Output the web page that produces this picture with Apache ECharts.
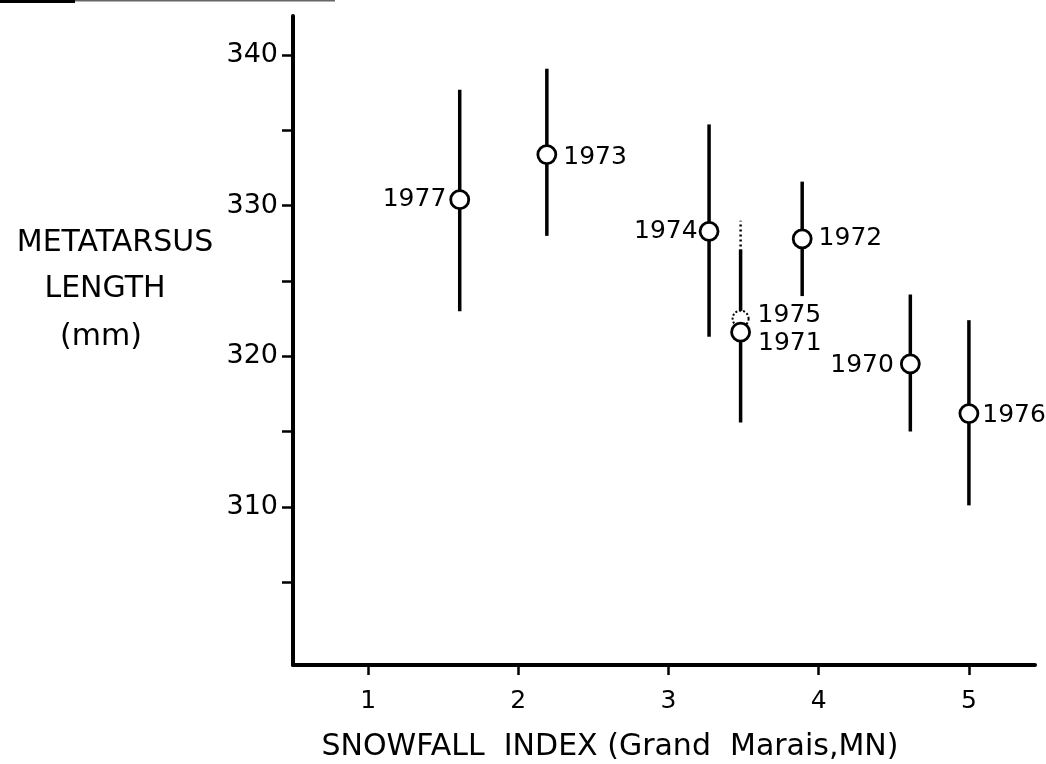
<!DOCTYPE html>
<html>
<head>
<meta charset="utf-8">
<script src="https://cdn.jsdelivr.net/npm/echarts@6/dist/echarts.min.js"></script>
<style>html,body{margin:0;padding:0;background:#fff;}#c{width:1046px;height:764px;}</style>
</head>
<body>
<div id="c"></div>
<script>
// ---- data ----
const years    = ['1977', '1973', '1974', '1975', '1971', '1972', '1970', '1976'];
const snowfall = [1.61, 2.19, 3.27, 3.48, 3.48, 3.89, 4.61, 5.00];
const meanLen  = [330.4, 333.4, 328.3, 322.5, 321.6, 327.8, 319.5, 316.2];
const upperLen = [337.7, 339.1, 335.4, 329.0, 327.1, 331.6, 324.1, 322.4];
const lowerLen = [323.0, 328.0, 321.3, 316.0, 315.6, 324.0, 315.0, 310.1];
const dottedYears = ['1975'];
const xTickValues = [1, 2, 3, 4, 5];
const yTickValues = [305, 310, 315, 320, 325, 330, 335, 340];
const yLabelValues = [310, 320, 330, 340];

// label placement (style, kept separate from data)
const labelSide   = {'1977':'left','1973':'right','1974':'left','1975':'right','1971':'right','1972':'right','1970':'left','1976':'right'};
const labelOffset = {'1975':[0,-3],'1971':[0,11],'1973':[0,3],'1976':[0,2],'1970':[0,2]};
const labelDist   = {'1977':3,'1974':1,'1975':8,'1971':7,'1976':3};

const FONT = 'DejaVu Sans';
const chart = echarts.init(document.getElementById('c'));

function rows(dotted) {
  const out = [];
  years.forEach((y, i) => {
    if ((dottedYears.indexOf(y) >= 0) === dotted) out.push(i);
  });
  return out;
}
function barData(dotted) {
  return rows(dotted).map(i => [snowfall[i], lowerLen[i], upperLen[i]]);
}
function ptData(dotted) {
  return rows(dotted).map(i => ({
    value: [snowfall[i], meanLen[i]],
    name: years[i],
    label: {
      position: labelSide[years[i]],
      distance: labelDist[years[i]] !== undefined ? labelDist[years[i]] : 6,
      offset: labelOffset[years[i]] || [0, 0]
    }
  }));
}
function barRender(dashed) {
  return function (params, api) {
    const x = api.value(0), lo = api.value(1), hi = api.value(2);
    const p1 = api.coord([x, lo]), p2 = api.coord([x, hi]);
    return {
      type: 'line',
      shape: {x1: p1[0], y1: p1[1], x2: p2[0], y2: p2[1]},
      style: {stroke: '#000', lineWidth: dashed ? 2.5 : 3.5, lineDash: dashed ? [2, 3] : null}
    };
  };
}
const labelStyle = {
  show: true, formatter: p => p.name, color: '#000', fontSize: 25, fontFamily: FONT
};
const titleFont = '30px "DejaVu Sans"';

chart.setOption({
  animation: false,
  backgroundColor: '#fff',
  grid: {left: 293, right: 11, top: 16, bottom: 99},
  xAxis: {
    type: 'value', min: 0.5, max: 5.44,
    axisLine: {onZero: false, lineStyle: {color: '#000', width: 4}},
    axisTick: {customValues: xTickValues, length: 10, lineStyle: {color: '#000', width: 2.5}},
    axisLabel: {customValues: xTickValues, color: '#000', fontSize: 25, fontFamily: FONT, margin: 24},
    splitLine: {show: false}
  },
  yAxis: {
    type: 'value', min: 299.5, max: 342.6,
    axisLine: {onZero: false, lineStyle: {color: '#000', width: 4}},
    axisTick: {customValues: yTickValues, length: 11, lineStyle: {color: '#000', width: 2.5}},
    axisLabel: {customValues: yLabelValues, color: '#000', fontSize: 27, fontFamily: FONT, margin: 15},
    splitLine: {show: false}
  },
  graphic: [
    {type: 'rect', shape: {x: 0, y: 0, width: 75, height: 3}, style: {fill: '#000'}},
    {type: 'rect', shape: {x: 75, y: 0, width: 260, height: 1.5}, style: {fill: '#666'}},
    {type: 'text', x: 115, y: 243, style: {text: 'METATARSUS', fill: '#000', font: titleFont, align: 'center', verticalAlign: 'middle'}},
    {type: 'text', x: 105, y: 289, style: {text: 'LENGTH', fill: '#000', font: titleFont, align: 'center', verticalAlign: 'middle'}},
    {type: 'text', x: 101, y: 337, style: {text: '(mm)', fill: '#000', font: titleFont, align: 'center', verticalAlign: 'middle'}},
    {type: 'text', x: 610, y: 747, style: {text: 'SNOWFALL  INDEX (Grand  Marais,MN)', fill: '#000', font: titleFont, align: 'center', verticalAlign: 'middle'}}
  ],
  series: [
    {type: 'custom', z: 1, renderItem: barRender(true), data: barData(true), encode: {x: 0, y: [1, 2]}},
    {type: 'custom', z: 5, renderItem: barRender(false), data: barData(false), encode: {x: 0, y: [1, 2]}},
    {type: 'scatter', z: 6, symbol: 'circle', symbolSize: 16,
     itemStyle: {color: '#fff', borderColor: '#000', borderWidth: 2, borderType: [2, 2], opacity: 1},
     label: labelStyle, data: ptData(true)},
    {type: 'scatter', z: 7, symbol: 'circle', symbolSize: 18,
     itemStyle: {color: '#fff', borderColor: '#000', borderWidth: 2.8, opacity: 1},
     label: labelStyle, data: ptData(false)}
  ]
});
</script>
</body>
</html>
